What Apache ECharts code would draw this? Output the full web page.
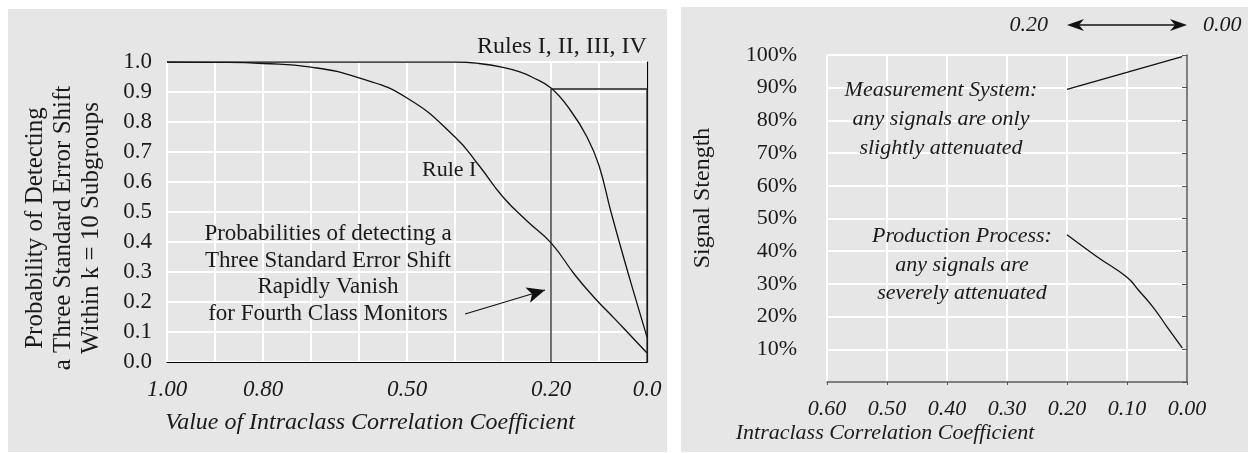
<!DOCTYPE html>
<html>
<head>
<meta charset="utf-8">
<script src="https://cdn.jsdelivr.net/npm/echarts@6/dist/echarts.min.js"></script>
<style>
  html, body { margin: 0; padding: 0; background: #fff; }
  #chart { width: 1248px; height: 453px; }
</style>
</head>
<body>
<div id="chart"></div>
<script>
// left panel: probability of detecting a 3 SE shift
const ruleOneIcc  = [1.00, 0.90, 0.80, 0.70, 0.60, 0.50, 0.40, 0.35, 0.30, 0.25, 0.20, 0.15, 0.11, 0.08, 0.05, 0.00];
const ruleOneProb = [1.000, 0.999, 0.995, 0.983, 0.947, 0.880, 0.750, 0.655, 0.550, 0.470, 0.397, 0.290, 0.215, 0.165, 0.115, 0.030];
const rulesAllIcc  = [1.00, 0.40, 0.35, 0.30, 0.265, 0.24, 0.20, 0.16, 0.125, 0.10, 0.075, 0.04, 0.00];
const rulesAllProb = [1.000, 1.000, 0.995, 0.982, 0.967, 0.950, 0.913, 0.840, 0.750, 0.655, 0.500, 0.300, 0.083];
const boxIcc  = [0.20, 0.20, 0.00, 0.00];
const boxProb = [0.00, 0.91, 0.91, 0.00];
const leftTickVals = [1.0, 0.8, 0.5, 0.2, 0.0];
const leftTickText = ['1.00', '0.80', '0.50', '0.20', '0.0'];

// right panel: signal strength
const prodIcc    = [0.20, 0.15, 0.10, 0.08, 0.057, 0.033, 0.008];
const prodSignal = [45, 38.3, 32, 27.9, 23, 16.8, 10.4];
const measIcc    = [0.20, 0.008];
const measSignal = [89.5, 99.5];

const serif = '"Liberation Serif", "DejaVu Serif", serif';
const ink = '#1a1a1a';

function pairs(xs, ys) { return xs.map((x, i) => [x, ys[i]]); }

const chart = echarts.init(document.getElementById('chart'));

const option = {
  animation: false,
  grid: [
    { left: 167, top: 62, width: 480, height: 300 },
    { left: 827, top: 55, width: 360, height: 327 }
  ],
  xAxis: [
    {
      gridIndex: 0, type: 'value', min: 0, max: 1, interval: 0.1, inverse: true,
      axisLine: { show: true, lineStyle: { color: '#000', width: 1.2 } },
      axisTick: { show: false },
      splitLine: { show: true, lineStyle: { color: '#fff', width: 2 } },
      axisLabel: {
        margin: 16, fontFamily: serif, fontSize: 23, fontStyle: 'italic', color: ink,
        showMinLabel: true, showMaxLabel: true,
        formatter: function (v) {
          const k = leftTickVals.findIndex(t => Math.abs(t - v) < 1e-6);
          return k >= 0 ? leftTickText[k] : '';
        }
      }
    },
    {
      gridIndex: 1, type: 'value', min: 0, max: 0.6, interval: 0.1, inverse: true,
      axisLine: { show: true, lineStyle: { color: '#555', width: 1.5 } },
      axisTick: { show: true, length: 3, lineStyle: { color: '#555' } },
      splitLine: { show: true, lineStyle: { color: '#fff', width: 2 } },
      axisLabel: {
        margin: 16, fontFamily: serif, fontSize: 22, fontStyle: 'italic', color: ink,
        showMinLabel: true, showMaxLabel: true,
        formatter: v => v.toFixed(2)
      }
    }
  ],
  yAxis: [
    {
      gridIndex: 0, type: 'value', min: 0, max: 1, interval: 0.1,
      axisLine: { show: true, lineStyle: { color: '#000', width: 1.2 } },
      axisTick: { show: false },
      splitLine: { show: true, lineStyle: { color: '#fff', width: 2 } },
      axisLabel: {
        margin: 15, fontFamily: serif, fontSize: 23, color: ink,
        formatter: v => v.toFixed(1)
      }
    },
    {
      gridIndex: 1, type: 'value', min: 0, max: 100, interval: 10,
      axisLine: { show: true, lineStyle: { color: '#555', width: 1.5 } },
      axisTick: { show: true, length: 5, lineStyle: { color: '#555' } },
      splitLine: { show: true, lineStyle: { color: '#fff', width: 2 } },
      axisLabel: {
        margin: 30, fontFamily: serif, fontSize: 22, color: ink,
        formatter: v => v === 0 ? '' : Math.round(v) + '%'
      }
    }
  ],
  series: [
    {
      name: 'Rules I-IV', type: 'line', xAxisIndex: 0, yAxisIndex: 0,
      data: pairs(rulesAllIcc, rulesAllProb), smooth: 0.45,
      symbol: 'none', lineStyle: { color: '#111', width: 1.3 }, silent: true
    },
    {
      name: 'Rule I', type: 'line', xAxisIndex: 0, yAxisIndex: 0,
      data: pairs(ruleOneIcc, ruleOneProb), smooth: 0.5,
      symbol: 'none', lineStyle: { color: '#111', width: 1.3 }, silent: true,
      markLine: {
        silent: true, symbol: ['none', 'arrow'], symbolSize: [12, 18],
        label: { show: false },
        lineStyle: { type: 'solid', color: '#111', width: 1.2 },
        data: [[{ coord: [0.379, 0.16] }, { coord: [0.2125, 0.24] }]]
      }
    },
    {
      name: 'Fourth class', type: 'line', xAxisIndex: 0, yAxisIndex: 0,
      data: pairs(boxIcc, boxProb), symbol: 'none',
      lineStyle: { color: '#222', width: 1.3 }, silent: true
    },
    {
      name: 'Measurement System', type: 'line', xAxisIndex: 1, yAxisIndex: 1,
      data: pairs(measIcc, measSignal), symbol: 'none',
      lineStyle: { color: '#111', width: 1.3 }, silent: true
    },
    {
      name: 'Production Process', type: 'line', xAxisIndex: 1, yAxisIndex: 1,
      data: pairs(prodIcc, prodSignal), smooth: 0.5, symbol: 'none',
      lineStyle: { color: '#111', width: 1.3 }, silent: true
    }
  ]
};

chart.setOption(option);

function txt(x, y, text, opts) {
  opts = opts || {};
  return {
    type: 'text', x: x, y: y, rotation: opts.rot || 0, silent: true,
    style: {
      text: text, x: 0, y: 0, fill: ink,
      font: (opts.italic ? 'italic ' : '') + (opts.size || 22) + 'px ' + serif,
      align: opts.align || 'center', verticalAlign: 'middle',
      textAlign: opts.align || 'center', textVerticalAlign: 'middle',
      lineHeight: opts.lh || 27
    }
  };
}

function arrowHead(x, y, dir) {
  // dir: +1 points right, -1 points left
  const L = 17, W = 6, N = 12;
  return {
    type: 'polygon', silent: true,
    shape: { points: [[x, y], [x - dir * L, y - W], [x - dir * N, y], [x - dir * L, y + W]] },
    style: { fill: '#111' }
  };
}

const xa = chart.convertToPixel({ xAxisIndex: 1 }, 0.20);
const xb = chart.convertToPixel({ xAxisIndex: 1 }, 0.00);
const topY = 25;

chart.setOption({
  graphic: [
    { type: 'rect', z: -100, silent: true, shape: { x: 8, y: 9, width: 659, height: 443 }, style: { fill: '#e6e6e6' } },
    { type: 'rect', z: -100, silent: true, shape: { x: 681, y: 7, width: 567, height: 445 }, style: { fill: '#e6e6e6' } },

    txt(63, 228, 'Probability of Detecting\na Three Standard Error Shift\nWithin k = 10 Subgroups', { rot: Math.PI / 2, lh: 28, size: 25 }),
    txt(370, 423, 'Value of Intraclass Correlation Coefficient', { italic: true, size: 24 }),
    txt(477, 47, 'Rules I, II, III, IV', { align: 'left', size: 24 }),
    txt(422, 170, 'Rule I', { align: 'left', size: 22 }),
    txt(328, 274, 'Probabilities of detecting a\nThree Standard Error Shift\nRapidly Vanish\nfor Fourth Class Monitors', { lh: 26.7, size: 23 }),

    txt(703, 198, 'Signal Stength', { rot: Math.PI / 2, size: 24 }),
    txt(885, 433, 'Intraclass Correlation Coefficient', { italic: true }),
    txt(941, 119, 'Measurement System:\nany signals are only\nslightly attenuated', { italic: true, lh: 29 }),
    txt(962, 265, 'Production Process:\nany signals are\nseverely attenuated', { italic: true, lh: 28.5 }),
    txt(xa - 19, topY, '0.20', { italic: true, align: 'right' }),
    txt(xb + 16, topY, '0.00', { italic: true, align: 'left' }),
    { type: 'line', silent: true, shape: { x1: xa + 10, y1: topY, x2: xb - 10, y2: topY }, style: { stroke: '#111', lineWidth: 1.3 } },
    arrowHead(xa, topY, -1),
    arrowHead(xb, topY, 1)
  ]
});
</script>
</body>
</html>
